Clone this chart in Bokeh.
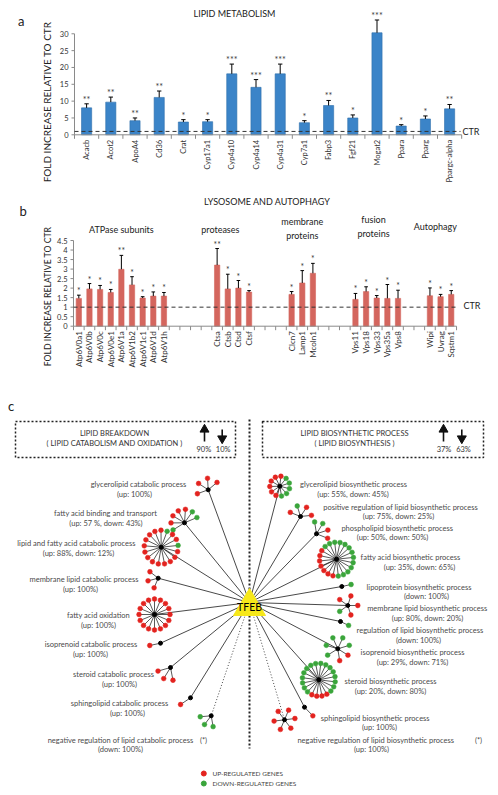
import math
import numpy as np
from bokeh.plotting import figure
from bokeh.models import Range1d
from bokeh.layouts import column
from bokeh.embed import file_html
from bokeh.resources import INLINE
from bokeh.core.properties import value

FONT = "Lato"
AXIS_TITLE = "FOLD INCREASE RELATIVE TO CTR"
CTR = 1.0

# ================= Panel a : lipid metabolism =================
a_title = "LIPID METABOLISM"
a_genes = ["Acacb", "Acot2", "ApoA4", "Cd36", "Crat", "Cyp17a1", "Cyp4a10", "Cyp4a14",
           "Cyp4a31", "Cyp7a1", "Fabp3", "Fgf21", "Mogat2", "Ppara", "Pparg", "Ppargc-alpha"]
a_fold = [8.0, 9.7, 4.2, 11.1, 3.8, 3.9, 18.1, 14.1, 18.1, 3.6, 8.7, 5.0, 30.3, 2.6, 4.7, 7.7]
a_err = [1.2, 1.5, 0.8, 1.9, 0.7, 0.6, 2.9, 2.3, 2.9, 0.6, 1.5, 0.9, 3.8, 0.4, 0.9, 1.3]
a_sig = ["**", "**", "**", "**", "*", "*", "***", "***", "***", "*", "**", "*", "***", "*", "*", "**"]
a_yticks = [0, 5, 10, 15, 20, 25, 30]
a_ytick_labels = ["0", "5", "10", "15", "20", "25", "30"]

# ================= Panel b : lysosome and autophagy =================
b_title = "LYSOSOME AND AUTOPHAGY"
b_groups = ["ATPase subunits", "proteases", "membrane\nproteins", "fusion\nproteins", "Autophagy"]
b_genes = [
    ["Atp6V0a1", "Atp6V0b", "Atp6V0c", "Atp6V0e1", "Atp6V1a", "Atp6V1b2", "Atp6V1c1", "Atp6V1d", "Atp6V1h"],
    ["Ctsa", "Ctsb", "Ctsd", "Ctsf"],
    ["Clcn7", "Lamp1", "Mcoln1"],
    ["Vps11", "Vps18", "Vps33", "Vps35a", "Vps8"],
    ["Wipi", "Uvrag", "Sqstm1"],
]
b_fold = [
    [1.46, 1.96, 1.93, 1.77, 2.99, 2.17, 1.48, 1.58, 1.58],
    [3.21, 1.96, 2.00, 1.79],
    [1.67, 2.27, 2.78],
    [1.41, 1.82, 1.48, 1.46, 1.46],
    [1.60, 1.55, 1.67],
]
b_err = [
    [0.17, 0.28, 0.21, 0.16, 0.73, 0.43, 0.07, 0.22, 0.19],
    [0.87, 0.77, 0.40, 0.08],
    [0.15, 0.65, 0.52],
    [0.31, 0.25, 0.13, 0.73, 0.43],
    [0.41, 0.12, 0.20],
]
b_sig = [
    ["*", "*", "*", "*", "**", "*", "*", "*", "*"],
    ["**", "*", "*", "*"],
    ["*", "*", "*"],
    ["*", "*", "*", "*", "*"],
    ["*", "*", "*"],
]
b_yticks = [0, 0.5, 1, 1.5, 2, 2.5, 3, 3.5, 4, 4.5]
b_ytick_labels = ["0", "0.5", "1", "1.5", "2", "2.5", "3", "3.5", "4", "4.5"]

# ================= Panel c : TFEB network =================
c_box_title = ["LIPID BREAKDOWN", "LIPID BIOSYNTHETIC PROCESS"]
c_box_sub = ["( LIPID CATABOLISM AND OXIDATION )", "( LIPID BIOSYNTHESIS )"]
c_box_up = ["90%", "37%"]
c_box_down = ["10%", "63%"]
c_hub_name = "TFEB"
c_proc = [
    "glycerolipid catabolic process", "fatty acid binding and transport",
    "lipid and fatty acid catabolic process", "membrane lipid catabolic process",
    "fatty acid oxidation", "isoprenoid catabolic process", "steroid catabolic process",
    "sphingolipid catabolic process", "negative regulation of lipid catabolic process",
    "glycerolipid biosynthetic process", "positive regulation of lipid biosynthetic process",
    "phospholipid biosynthetic process", "fatty acid biosynthetic process",
    "lipoprotein biosynthetic process", "membrane lipid biosynthetic process",
    "regulation of lipid biosynthetic process", "isoprenoid biosynthetic process",
    "steroid biosynthetic process", "sphingolipid biosynthetic process",
    "negative regulation of lipid biosynthetic process",
]
c_stat = [
    "(up: 100%)", "(up: 57 %, down: 43%)", "(up: 88%, down: 12%)", "(up: 100%)", "(up: 100%)",
    "(up: 100%)", "(up: 100%)", "(up: 100%)", "(down: 100%)",
    "(up: 55%, down: 45%)", "(up: 75%, down: 25%)", "(up: 50%, down: 50%)", "(up: 35%, down: 65%)",
    "(down: 100%)", "(up: 80%, down: 20%)", "(down: 100%)", "(up: 29%, down: 71%)",
    "(up: 20%, down: 80%)", "(up: 100%)", "(up: 100%)",
]
# regulation of each member gene (u = up, d = down), in drawing order around its hub
c_genes = [
    "uuuu", "dduuuud", "duuduuuuuuuuuuuuu", "uuu", "uuuuuuuuuuuuuuuu", "u", "uuu", "u", "ddd",
    "ddddduuuuuu", "uudu", "uudd", "uuuuuuuddddddddddddd", "d", "uuudu", "d", "uuddddd",
    "uuuudddddddddddddddd", "u", "uuuuuu",
]
c_dotted = [False] * 8 + [True] + [False] * 10 + [True]
c_legend = ["UP-REGULATED GENES", "DOWN-REGULATED GENES"]

# ---- network layout (picture pixel positions) ----
c_hub_x = [207.7, 184, 160.7, 157.7, 154, 160, 170, 190, 210.7,
           279.3, 300, 316, 336, 341.3, 347.3, 340, 337.3, 318.3, 304, 284]
c_hub_y = [489.3, 522.3, 546.7, 577.7, 614, 642.7, 667, 697.3, 715.3,
           485.7, 516, 533.3, 558.7, 586, 605, 621, 648.3, 679.3, 706.7, 719.3]
c_leaf_r = [11.5, 13.5, 17, 10.5, 15.5, 11, 13, 12, 11,
            10, 11, 12, 17, 9.5, 10, 9, 12, 16.5, 12, 10.5]
c_a0 = [40, 23, 6, 142, 0, 192, 196, 214, 185,
        -80, 6, -22, 150, 12, 0, -26, -81, 245, -46, 7]
c_a1 = [200, 212, None, 247, None, 192, 281, 214, 280,
        None, 158, 99, None, 12, None, -26, 212, None, -46, None]
c_lab1 = [(138, 484), (105, 513), (76, 542.7), (83.5, 579), (98, 615), (90.5, 644.3), (113, 674.3),
          (119, 703.3), (120, 740), (353, 484.3), (400, 506.7), (396.7, 527.7), (410, 557.3),
          (418.5, 586.7), (426.7, 608.3), (419.5, 630), (412, 652), (390, 681), (374.7, 717.7),
          (375.3, 740)]
c_lab2 = [(134, 494), (105.5, 523), (78, 552.7), (80, 589), (98, 625), (90, 654), (119, 683.7),
          (127, 713.3), (120, 749.3), (352.5, 494), (398, 516), (392, 537.3), (419, 566.7),
          (426, 596), (427, 617.7), (418, 640), (412, 661.7), (390, 690.7), (379, 727.3),
          (371, 749.3)]
c_star_x = [203, 478]

UP_COL = "#e3231f"
DOWN_COL = "#3aa53b"
BLUE = "#3b84c8"
SALMON = "#d4665e"
TXT = "#3a3a3a"
AX_COL = "#8a8a8a"
PAGE_L, PAGE_R = 0, 490


def make_fig(height, xr, yr):
    p = figure(width=PAGE_R - PAGE_L, height=height, x_range=xr, y_range=yr, title=None,
               x_axis_location=None, y_axis_location=None, output_backend="svg",
               toolbar_location=None, min_border=0)
    p.grid.grid_line_color = None
    p.outline_line_color = None
    p.background_fill_color = "white"
    p.border_fill_color = "white"
    return p


def txt(p, x, y, t, size, color="#222222", align="center", baseline="middle", angle=0.0, **kw):
    p.text(x, y, text=t, text_font=value(FONT), text_font_size=size, text_color=color,
           text_align=align, text_baseline=baseline, angle=angle, **kw)


def bar_panel(top_px, height, x0_px, slot_px, y0_px, ppu, nslot, xs, names, fold, err, sig,
              yticks, ytick_labels, yaxis_max, color, line_color, bar_w, cap_w,
              xlab_size, star_size):
    xr = Range1d(-0.5 + (PAGE_L - x0_px) / slot_px, -0.5 + (PAGE_R - x0_px) / slot_px)
    yr = Range1d((y0_px - (top_px + height)) / ppu, (y0_px - top_px) / ppu)
    p = make_fig(height, xr, yr)
    dx, dy = 1.0 / slot_px, 1.0 / ppu          # one picture pixel in data units
    xs = np.asarray(xs, dtype=float)
    hi = np.asarray(fold) + np.asarray(err)
    # bars, error bars, significance
    p.vbar(x=xs, top=fold, width=bar_w, fill_color=color, line_color=line_color, line_width=0.6)
    p.segment(xs, fold, xs, hi, line_color="black", line_width=1)
    p.segment(xs - cap_w, hi, xs + cap_w, hi, line_color="black", line_width=1)
    txt(p, xs, hi, sig, star_size, color=TXT, baseline="bottom", y_offset=1)
    # y axis
    n = len(yticks)
    p.segment([-0.5], [0], [-0.5], [yaxis_max], line_color=AX_COL, line_width=1)
    p.segment([-0.5 - 3 * dx] * n, yticks, [-0.5] * n, yticks, line_color=AX_COL, line_width=1)
    txt(p, [-0.5 - 6 * dx] * n, yticks, ytick_labels, "7.5px", color="#333333", align="right")
    # x axis
    bounds = np.arange(-0.5, nslot, 1.0)
    p.segment([-0.5], [0], [nslot - 0.5], [0], line_color=AX_COL, line_width=1)
    p.segment(bounds, [0] * len(bounds), bounds, [-4 * dy] * len(bounds), line_color=AX_COL,
              line_width=1)
    txt(p, xs, [-5 * dy] * len(xs), names, xlab_size, color="#333333", align="right",
        angle=math.pi / 2)
    # control line
    p.segment([-0.5], [CTR], [nslot - 0.55], [CTR], line_color="#333333", line_dash="4 3",
              line_width=1)
    return p, (lambda px: (px - x0_px) / slot_px - 0.5), (lambda py: (y0_px - py) / ppu)


# ---------------------------------------------------------------- panel a
xa = np.arange(len(a_genes))
pa, ax, ay = bar_panel(top_px=0, height=188, x0_px=74, slot_px=24.2, y0_px=134.3, ppu=3.367,
                       nslot=len(a_genes), xs=xa, names=a_genes, fold=a_fold, err=a_err, sig=a_sig,
                       yticks=a_yticks, ytick_labels=a_ytick_labels, yaxis_max=30,
                       color=BLUE, line_color="#2e6eab", bar_w=0.42, cap_w=0.09,
                       xlab_size="7.5px", star_size="9px")
txt(pa, [ax(234)], [ay(12.7)], [a_title], "9px")
txt(pa, [ax(462)], [ay(130.5)], ["CTR"], "9px", align="left")
txt(pa, [ax(20.7)], [ay(20.7)], ["a"], "13px")
txt(pa, [ax(46)], [ay(101.5)], [AXIS_TITLE], "10px", angle=math.pi / 2)

# ---------------------------------------------------------------- panel b
B_NSLOT = 36
b_group_slot = [0, 13, 20, 26, 33]
b_group_label_x = [4, 13.3, 21, 27.7, 33.5]
xb, fb, eb, sb, nb = [], [], [], [], []
for gi, genes in enumerate(b_genes):
    for j, g in enumerate(genes):
        xb.append(b_group_slot[gi] + j)
        fb.append(b_fold[gi][j])
        eb.append(b_err[gi][j])
        sb.append(b_sig[gi][j])
        nb.append(g)
pb, bx, by = bar_panel(top_px=188, height=184, x0_px=73, slot_px=10.64, y0_px=325.7, ppu=19.04,
                       nslot=B_NSLOT, xs=xb, names=nb, fold=fb, err=eb, sig=sb,
                       yticks=b_yticks, ytick_labels=b_ytick_labels, yaxis_max=4.5,
                       color=SALMON, line_color=SALMON, bar_w=0.5, cap_w=0.17,
                       xlab_size="8px", star_size="8.5px")
txt(pb, [bx(266.7)], [by(201)], [b_title], "9px")
glab_y = [by(229), by(229), by(228.3), by(226), by(226)]
txt(pb, b_group_label_x, glab_y, b_groups, "9px", text_line_height=1.25)
txt(pb, [bx(463)], [by(305)], ["CTR"], "9px", align="left")
txt(pb, [bx(22.7)], [by(210)], ["b"], "13px")
txt(pb, [bx(47)], [by(296)], [AXIS_TITLE], "8.7px", angle=math.pi / 2)

# ---------------------------------------------------------------- panel c
pc = make_fig(415, Range1d(PAGE_L, PAGE_R), Range1d(787, 372))
TF_X, TF_Y = 249, 602          # convergence point of edges
TRI_CX, TRI_BASE, TRI_TOP, TRI_HW = 249, 615, 588, 16
DIV_X, DIV_Y0, DIV_Y1 = 249, 419, 748

pc.segment([DIV_X], [DIV_Y0], [DIV_X], [DIV_Y1], line_color="#222222", line_width=2, line_dash="2 2")

solid = [i for i in range(len(c_proc)) if not c_dotted[i]]
dotted = [i for i in range(len(c_proc)) if c_dotted[i]]
pc.segment([TF_X] * len(solid), [TF_Y] * len(solid), [c_hub_x[i] for i in solid],
           [c_hub_y[i] for i in solid], line_color="#1a1a1a", line_width=0.8)
pc.segment([TF_X] * len(dotted), [TF_Y] * len(dotted), [c_hub_x[i] for i in dotted],
           [c_hub_y[i] for i in dotted], line_color="#1a1a1a", line_width=0.8, line_dash="1 2")

sx0, sy0, lx, ly, lc = [], [], [], [], []
for i, genes in enumerate(c_genes):
    n = len(genes)
    if c_a1[i] is None:
        angs = [c_a0[i] + 360.0 * k / n for k in range(n)]
    elif n == 1:
        angs = [c_a0[i]]
    else:
        angs = list(np.linspace(c_a0[i], c_a1[i], n))
    for g, a in zip(genes, angs):
        lx.append(c_hub_x[i] + c_leaf_r[i] * math.cos(math.radians(a)))
        ly.append(c_hub_y[i] - c_leaf_r[i] * math.sin(math.radians(a)))
        sx0.append(c_hub_x[i])
        sy0.append(c_hub_y[i])
        lc.append(UP_COL if g == "u" else DOWN_COL)
pc.segment(sx0, sy0, lx, ly, line_color="#111111", line_width=0.7)
pc.scatter(lx, ly, size=4.8, fill_color=lc, line_color=lc, line_width=0.5)
pc.scatter(c_hub_x, c_hub_y, size=4, fill_color="black", line_color="black")

pc.patch([TRI_CX - TRI_HW, TRI_CX, TRI_CX + TRI_HW], [TRI_BASE, TRI_TOP, TRI_BASE],
         fill_color="#f7e81a", line_color="#f7e81a")
txt(pc, [TRI_CX], [606.5], [c_hub_name], "10.5px", color="black")

LAB_COL = "#4a4a4a"
txt(pc, [q[0] for q in c_lab1], [q[1] for q in c_lab1], c_proc, "7.5px", color=LAB_COL)
txt(pc, [q[0] for q in c_lab2], [q[1] for q in c_lab2], c_stat, "7.5px", color=LAB_COL)
star_rows = [i for i in range(len(c_proc)) if c_dotted[i]]
txt(pc, c_star_x, [c_lab1[i][1] for i in star_rows], ["(*)"] * len(star_rows), "7.5px", color=LAB_COL)

box_l, box_r, box_t, box_b = [15, 262], [235, 483], [421, 421], [457, 457]
pc.quad(left=box_l, right=box_r, top=box_t, bottom=box_b, fill_color=None,
        line_color="#222222", line_width=1.5, line_dash="2 2")
box_tx = [114, 354]
txt(pc, box_tx, [432.7, 432.7], c_box_title, "7.5px", color="#333333")
txt(pc, box_tx, [443.3, 443.3], c_box_sub, "7.5px", color="#333333")
up_x, dn_x = [204, 443], [221.7, 461.3]
pc.segment(up_x, [441, 441], up_x, [431, 431], line_color="#111111", line_width=1.6)
pc.scatter(up_x, [429, 429], marker="triangle", size=9, fill_color="#111111", line_color="#111111")
pc.segment(dn_x, [429, 429], dn_x, [436, 436], line_color="#111111", line_width=1.6)
pc.scatter(dn_x, [438, 438], marker="inverted_triangle", size=9, fill_color="#111111",
           line_color="#111111")
txt(pc, [203.3, 443.5], [448.5, 448.5], c_box_up, "7.5px", color="#333333")
txt(pc, [222.7, 463], [448.5, 448.5], c_box_down, "7.5px", color="#333333")

txt(pc, [10.5], [405], ["c"], "13px")

pc.scatter([203.3, 203.3], [773, 783], size=5, fill_color=[UP_COL, DOWN_COL],
           line_color=[UP_COL, DOWN_COL])
txt(pc, [212, 212], [773, 783], c_legend, "6.5px", color="#444444", align="left")

layout = column(pa, pb, pc, spacing=0)
open("out.html", "w").write(file_html(layout, INLINE))
